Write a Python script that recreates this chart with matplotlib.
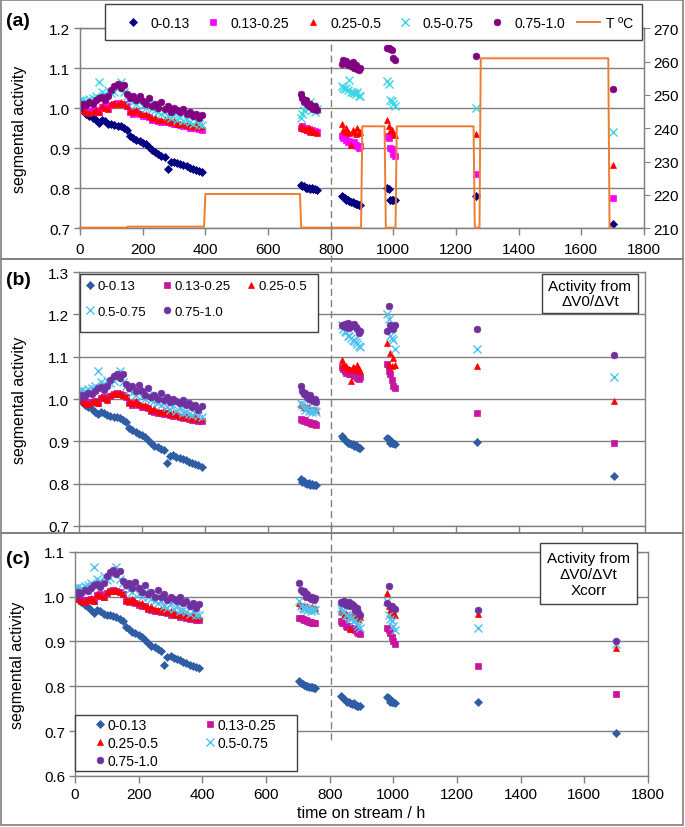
import matplotlib
matplotlib.use('Agg')
import matplotlib.pyplot as plt
import numpy as np
from matplotlib.lines import Line2D
from matplotlib.patches import Rectangle
from matplotlib.transforms import blended_transform_factory

plt.rcParams['font.family'] = ['Liberation Sans', 'DejaVu Sans']

# ---------------- data ----------------
seg_labels = ['0-0.13', '0.13-0.25', '0.25-0.5', '0.5-0.75', '0.75-1.0']

t_early = [0, 10, 20, 30, 40, 50, 60, 70, 80, 90, 100, 110, 120, 130, 140, 150, 160, 170, 180, 190,
           200, 210, 220, 230, 240, 250, 260, 270, 280, 290, 300, 310, 320, 330, 340, 350, 360, 370, 380, 390]
t_c2 = [705, 710, 715, 720, 725, 730, 735, 740, 745, 750, 755]
t_c3 = [835, 840, 845, 850, 855, 860, 865, 870, 875, 880, 885, 890, 895]
t_c4 = [980, 985, 990, 995, 1000, 1005]
t_late = [1265, 1700]

# first 400 h (same in all panels)
early_s1 = [1.000, 0.994, 0.987, 0.981, 0.976, 0.970, 0.964, 0.970, 0.968, 0.962,
            0.960, 0.958, 0.957, 0.955, 0.950, 0.945, 0.932, 0.927, 0.922, 0.918,
            0.914, 0.910, 0.903, 0.896, 0.890, 0.887, 0.882, 0.879, 0.848, 0.866,
            0.867, 0.864, 0.860, 0.858, 0.855, 0.852, 0.848, 0.846, 0.843, 0.840]
early_s2 = [1.000, 0.996, 0.992, 0.990, 0.993, 0.995, 0.990, 1.003, 1.005, 1.000,
            1.008, 1.012, 1.014, 1.012, 1.010, 1.005, 0.990, 0.987, 0.990, 0.985,
            0.982, 0.980, 0.978, 0.972, 0.970, 0.968, 0.967, 0.965, 0.966, 0.963,
            0.960, 0.962, 0.958, 0.955, 0.957, 0.952, 0.950, 0.951, 0.948, 0.947]
early_s3 = [1.000, 0.995, 0.990, 0.988, 0.992, 0.996, 0.990, 1.005, 1.002, 0.998,
            1.010, 1.013, 1.012, 1.015, 1.010, 1.006, 0.993, 0.990, 0.995, 0.988,
            0.985, 0.986, 0.980, 0.975, 0.978, 0.972, 0.970, 0.973, 0.968, 0.965,
            0.968, 0.962, 0.960, 0.963, 0.958, 0.957, 0.955, 0.958, 0.953, 0.955]
early_s4 = [1.020, 1.022, 1.018, 1.024, 1.025, 1.030, 1.066, 1.040, 1.035, 1.045,
            1.038, 1.042, 1.050, 1.066, 1.040, 1.030, 1.022, 1.015, 1.010, 1.018,
            1.005, 1.000, 1.010, 0.998, 0.995, 0.990, 0.985, 0.990, 0.980, 0.975,
            0.985, 0.972, 0.978, 0.968, 0.970, 0.965, 0.962, 0.968, 0.960, 0.958]
early_s5 = [1.000, 1.010, 1.008, 1.015, 1.012, 1.020, 1.025, 1.028, 1.022, 1.030,
            1.045, 1.055, 1.060, 1.050, 1.058, 1.035, 1.025, 1.030, 1.020, 1.032,
            1.018, 1.010, 1.025, 1.005, 1.010, 1.000, 1.015, 0.998, 1.005, 0.992,
            1.000, 0.995, 0.990, 0.998, 0.985, 0.990, 0.980, 0.985, 0.975, 0.983]

# later clusters, panel (a)
a_s1 = [0.808, 0.805, 0.806, 0.802, 0.800, 0.801, 0.799, 0.800, 0.798, 0.799, 0.797,
        0.782, 0.778, 0.776, 0.772, 0.770, 0.768, 0.766, 0.765, 0.763, 0.762, 0.760, 0.758, 0.759,
        0.800, 0.798, 0.771, 0.772, 0.770, 0.771, 0.781, 0.711]
a_s2 = [0.950, 0.955, 0.948, 0.952, 0.945, 0.948, 0.942, 0.946, 0.940, 0.944, 0.940,
        0.930, 0.925, 0.928, 0.920, 0.915, 0.918, 0.912, 0.910, 0.915, 0.908, 0.905, 0.902, 0.905,
        0.930, 0.925, 0.900, 0.898, 0.885, 0.880, 0.835, 0.776]
a_s3 = [0.955, 0.950, 0.952, 0.948, 0.945, 0.950, 0.943, 0.945, 0.940, 0.942, 0.938,
        0.960, 0.945, 0.940, 0.950, 0.942, 0.938, 0.908, 0.945, 0.940, 0.935, 0.950, 0.938, 0.942,
        0.970, 0.955, 0.943, 0.945, 0.935, 0.933, 0.937, 0.858]
a_s4 = [0.975, 0.985, 0.995, 1.005, 1.010, 1.000, 1.015, 0.995, 1.005, 0.990, 0.998,
        1.055, 1.050, 1.048, 1.052, 1.045, 1.070, 1.040, 1.042, 1.038, 1.035, 1.040, 1.032, 1.030,
        1.068, 1.060, 1.020, 1.018, 1.010, 1.007, 1.000, 0.940]
a_s5 = [1.035, 1.025, 1.015, 1.020, 1.010, 1.005, 1.012, 1.000, 0.998, 1.005, 0.995,
        1.110, 1.120, 1.115, 1.118, 1.108, 1.112, 1.105, 1.115, 1.100, 1.108, 1.098, 1.095, 1.100,
        1.150, 1.152, 1.148, 1.145, 1.125, 1.122, 1.132, 1.048]

# later clusters, panel (b)
b_s1 = [0.810, 0.805, 0.806, 0.802, 0.800, 0.801, 0.798, 0.799, 0.797, 0.798, 0.796,
        0.912, 0.908, 0.903, 0.900, 0.897, 0.895, 0.894, 0.893, 0.890, 0.892, 0.886, 0.884, 0.885,
        0.908, 0.905, 0.897, 0.896, 0.895, 0.894, 0.899, 0.817]
b_s2 = [0.952, 0.950, 0.948, 0.950, 0.945, 0.946, 0.943, 0.942, 0.944, 0.940, 0.938,
        1.075, 1.072, 1.065, 1.062, 1.068, 1.060, 1.058, 1.062, 1.055, 1.060, 1.050, 1.048, 1.052,
        1.082, 1.065, 1.058, 1.045, 1.030, 1.025, 0.966, 0.896]
b_s3 = [0.988, 0.985, 0.982, 0.980, 0.978, 0.980, 0.976, 0.975, 0.977, 0.974, 0.975,
        1.092, 1.080, 1.075, 1.078, 1.072, 1.070, 1.043, 1.075, 1.073, 1.068, 1.080, 1.072, 1.065,
        1.132, 1.080, 1.108, 1.078, 1.096, 1.080, 1.078, 0.996]
b_s4 = [0.990, 0.985, 0.980, 0.975, 0.978, 0.972, 0.975, 0.970, 0.975, 0.972, 0.970,
        1.175, 1.165, 1.160, 1.158, 1.150, 1.148, 1.145, 1.140, 1.138, 1.135, 1.130, 1.125, 1.122,
        1.200, 1.190, 1.150, 1.145, 1.140, 1.118, 1.117, 1.052]
b_s5 = [1.030, 1.018, 1.012, 1.015, 1.005, 1.000, 1.010, 0.998, 0.995, 1.000, 0.992,
        1.175, 1.172, 1.178, 1.170, 1.180, 1.168, 1.175, 1.172, 1.178, 1.170, 1.165, 1.155, 1.160,
        1.160, 1.220, 1.175, 1.170, 1.165, 1.175, 1.165, 1.104]

# later clusters, panel (c)
c_s1 = [0.812, 0.808, 0.806, 0.803, 0.800, 0.801, 0.799, 0.798, 0.799, 0.797, 0.796,
        0.778, 0.775, 0.772, 0.768, 0.765, 0.764, 0.762, 0.760, 0.762, 0.758, 0.757, 0.755, 0.756,
        0.776, 0.774, 0.766, 0.765, 0.764, 0.763, 0.765, 0.696]
c_s2 = [0.953, 0.952, 0.950, 0.948, 0.948, 0.945, 0.944, 0.943, 0.942, 0.941, 0.940,
        0.945, 0.942, 0.940, 0.935, 0.932, 0.935, 0.930, 0.928, 0.930, 0.925, 0.922, 0.918, 0.916,
        0.930, 0.925, 0.918, 0.910, 0.900, 0.895, 0.845, 0.783]
c_s3 = [0.985, 0.982, 0.980, 0.978, 0.976, 0.978, 0.975, 0.974, 0.976, 0.973, 0.975,
        0.968, 0.965, 0.960, 0.962, 0.958, 0.957, 0.928, 0.960, 0.955, 0.958, 0.952, 0.950, 0.955,
        1.007, 0.980, 0.970, 0.962, 0.965, 0.960, 0.962, 0.886]
c_s4 = [0.990, 0.980, 0.975, 0.972, 0.975, 0.970, 0.973, 0.968, 0.972, 0.970, 0.969,
        0.975, 0.968, 0.965, 0.960, 0.958, 0.955, 0.950, 0.952, 0.945, 0.948, 0.940, 0.935, 0.930,
        0.990, 0.960, 0.950, 0.945, 0.935, 0.925, 0.930, 0.895]
c_s5 = [1.030, 1.015, 1.010, 1.012, 1.000, 1.005, 0.998, 0.995, 1.000, 0.993, 0.996,
        0.988, 0.985, 0.990, 0.982, 0.985, 0.988, 0.980, 0.983, 0.978, 0.970, 0.975, 0.965, 0.960,
        0.985, 1.023, 0.980, 0.978, 0.975, 0.972, 0.970, 0.902]

# temperature profile (panel a, right axis)
temp_t = [0, 148, 152, 396, 400, 702, 706, 897, 901, 972, 976, 1007, 1011, 1256, 1260, 1275, 1279, 1686, 1690, 1697]
temp_v = [210.2, 210.2, 210.5, 210.5, 220.3, 220.3, 210.2, 210.2, 240.6, 240.6, 210.2, 210.2,
          240.6, 240.6, 210.2, 210.2, 261.0, 261.0, 210.2, 210.2]
divider_time = 800
x_ticks = list(range(0, 1801, 200))

# ---------------- styling ----------------
W, H = 685, 828
fig = plt.figure(figsize=(W / 100, H / 100), dpi=100)
GRAY = '#808080'
DARK = '#404040'

def px_rect(x0, x1, ytop, ybot):
    return [x0 / W, 1 - ybot / H, (x1 - x0) / W, (ybot - ytop) / H]

ax_a = fig.add_axes(px_rect(80, 644, 29.3, 229.3))
ax_b = fig.add_axes(px_rect(79, 645, 273, 527))
ax_c = fig.add_axes(px_rect(75, 648, 552.7, 777))

colors_a = ['#000080', '#FF00FF', '#FF0000', '#3CD6E4', '#800080']
colors_bc = ['#2E5DA6', '#C8149E', '#FF0000', '#4FC1EC', '#7030A0']
markers = ['D', 's', '^', 'x', 'o']
msizes = [3.6, 4.0, 4.6, 5.5, 4.8]

t_all = np.array(t_early + t_c2 + t_c3 + t_c4 + t_late)
early = [early_s1, early_s2, early_s3, early_s4, early_s5]
late_a = [a_s1, a_s2, a_s3, a_s4, a_s5]
late_b = [b_s1, b_s2, b_s3, b_s4, b_s5]
late_c = [c_s1, c_s2, c_s3, c_s4, c_s5]


def draw_series(ax, late, colors):
    handles = []
    for i in range(5):
        vals = np.array(early[i] + late[i])
        c = colors[i]
        ln, = ax.plot(t_all, vals, linestyle='none', marker=markers[i], ms=msizes[i],
                      color=c, mfc=c, mec=c, mew=1.0 if markers[i] == 'x' else 0.5,
                      label=seg_labels[i])
        handles.append(ln)
    return handles


def style(ax, ymin, ymax, xlabels=True, xpad=3.5):
    ax.set_xlim(0, 1800)
    ax.set_ylim(ymin, ymax)
    ax.set_xticks(x_ticks)
    yt = np.round(np.arange(ymin, ymax + 0.001, 0.1), 1)
    ax.set_yticks(yt)
    ax.set_yticklabels([f'{v:.1f}' for v in yt])
    ax.yaxis.grid(True, color=GRAY, lw=1)
    ax.set_axisbelow(True)
    for s in ax.spines.values():
        s.set_color(GRAY)
        s.set_linewidth(1)
    ax.tick_params(axis='both', direction='out', color=GRAY, labelsize=11, length=4, width=1)
    ax.tick_params(axis='x', pad=xpad, length=5)
    ax.tick_params(axis='y', pad=3)
    if not xlabels:
        ax.tick_params(axis='x', labelbottom=False)


h_a = draw_series(ax_a, late_a, colors_a)
h_b = draw_series(ax_b, late_b, colors_bc)
h_c = draw_series(ax_c, late_c, colors_bc)

style(ax_a, 0.7, 1.2, xpad=5)
style(ax_b, 0.7, 1.3, xlabels=False)
style(ax_c, 0.6, 1.1, xpad=3)

ax_t = ax_a.twinx()
t_line, = ax_t.plot(temp_t, temp_v, color='#ED7D31', lw=1.4, label='T ºC', clip_on=False, zorder=3)
ax_t.set_ylim(210, 270)
ax_t.set_yticks(list(range(210, 271, 10)))
for s in ax_t.spines.values():
    s.set_color(GRAY)
ax_t.tick_params(axis='y', direction='out', color=GRAY, labelsize=11, length=4, pad=3)

for ax, xl in [(ax_a, -0.094), (ax_b, -0.092), (ax_c, -0.087)]:
    ax.set_ylabel('segmental activity', fontsize=11.5)
    ax.yaxis.set_label_coords(xl, 0.5)
ax_c.set_xlabel('time on stream / h', fontsize=11.5, labelpad=3)

# panel labels
for txt, y in [('(a)', 22), ('(b)', 281), ('(c)', 559)]:
    fig.text(6 / W, 1 - y / H, txt, fontsize=14, fontweight='bold', va='center', ha='left')


def fig_box(x0, y0, x1, y1, ec=GRAY, lw=1.2, fc='none', z=1):
    r = Rectangle((x0 / W, 1 - y1 / H), (x1 - x0) / W, (y1 - y0) / H, transform=fig.transFigure,
                  fill=(fc != 'none'), facecolor=fc if fc != 'none' else 'white', edgecolor=ec, lw=lw, zorder=z)
    fig.add_artist(r)

# panel frames
fig_box(1, 1, 683, 260)
fig_box(1, 260, 683, 534)
fig_box(1, 534, 683, 826)

# dashed divider at 800 h across panels
trans = blended_transform_factory(ax_a.transData, fig.transFigure)
fig.add_artist(Line2D([divider_time, divider_time], [1 - 45 / H, 1 - 745 / H], transform=trans,
                      color=GRAY, lw=1, ls=(0, (5, 3)), zorder=2))

# legend (a)
fig_box(105, 5, 642, 41, ec=DARK, lw=1, fc='white', z=3)
fig.legend(h_a + [t_line], seg_labels + ['T ºC'], loc='center left',
           bbox_to_anchor=(122 / W, 1 - 23.5 / H), ncol=6, frameon=False, fontsize=10,
           handlelength=1.6, handletextpad=0.45, columnspacing=0.9, borderpad=0, borderaxespad=0)

# legend (b)
fig_box(80, 275, 318, 333, ec=DARK, lw=1, fc='white', z=3)
ob = [0, 3, 1, 4, 2]
fig.legend([h_b[i] for i in ob], [seg_labels[i] for i in ob], loc='upper left',
           bbox_to_anchor=(86 / W, 1 - 281 / H), ncol=3, frameon=False, fontsize=9.5,
           handlelength=0.6, handletextpad=0.25, columnspacing=1.3, labelspacing=1.0,
           borderpad=0, borderaxespad=0)

# legend (c)
fig_box(75, 716, 297, 772, ec=DARK, lw=1, fc='white', z=3)
oc = [0, 2, 4, 1, 3]
fig.legend([h_c[i] for i in oc], [seg_labels[i] for i in oc], loc='upper left',
           bbox_to_anchor=(96 / W, 1 - 719 / H), ncol=2, frameon=False, fontsize=10,
           handlelength=0.6, handletextpad=0.25, columnspacing=3.4, labelspacing=0.3,
           borderpad=0, borderaxespad=0)

# text boxes
fig_box(542, 275, 638, 314, ec=DARK, lw=1, fc='white', z=3)
fig.text(590 / W, 1 - 294.5 / H, 'Activity from\nΔV0/ΔVt', fontsize=11, ha='center', va='center',
         multialignment='center', linespacing=1.05, zorder=4)
fig_box(540, 544, 637, 605, ec=DARK, lw=1, fc='white', z=3)
fig.text(588.5 / W, 1 - 575 / H, 'Activity from\nΔV0/ΔVt\nXcorr', fontsize=11, ha='center', va='center',
         multialignment='center', linespacing=1.15, zorder=4)

fig.savefig('out.png', dpi=100)
